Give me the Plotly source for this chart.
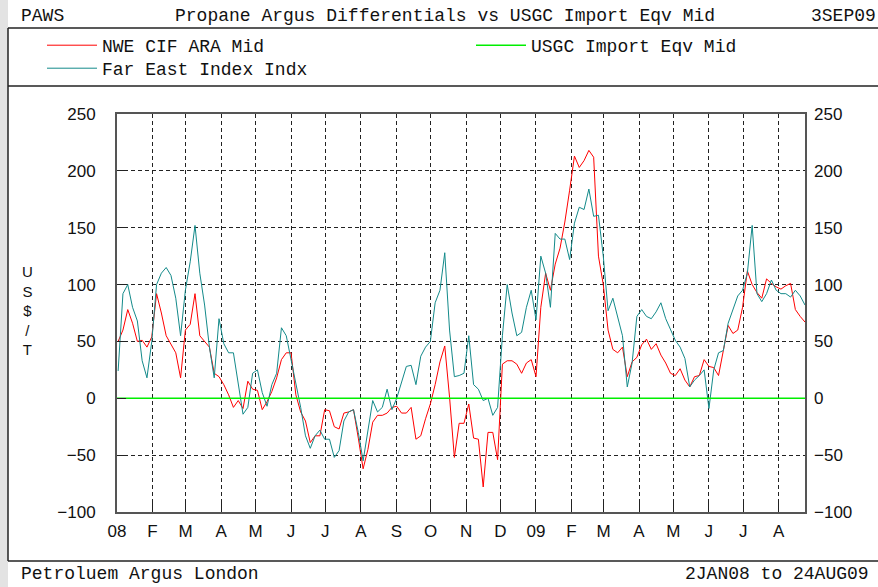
import plotly.graph_objects as go
import pandas as pd

# ---------------- data ----------------
sample_dates = pd.date_range("2008-01-02", "2009-08-24", periods=144)

nwe_cif_ara_mid = [
    50, 60, 78, 66, 50, 51, 45, 54, 92, 75,
    55, 48, 40, 18, 60, 65, 92, 55, 50, 45,
    22, 19, 12, 3, -8, -2, -9, 15, 8, 7,
    -10, -3, 6, 18, 34, 40, 40, 3, -12, -20,
    -39, -33, -33, -10, -11, -25, -27, -13, -12, -10,
    -35, -62, -45, -21, -15, -15, -13, -8, -7, -13,
    -13, -8, -36, -33, -18, -5, 12, 32, 46, 1,
    -52, -22, -22, -5, -35, -36, -78, -30, -30, -54,
    30, 33, 33, 30, 22, 31, 34, 19, 80, 110,
    95, 118, 132, 155, 183, 213, 203, 209, 218, 212,
    125, 100, 60, 43, 40, 45, 19, 32, 36, 47,
    52, 43, 48, 38, 31, 22, 20, 26, 16, 10,
    19, 20, 34, 28, 27, 20, 42, 64, 57, 60,
    80, 112, 100, 93, 88, 105, 101, 98, 96, 99,
    101, 78, 72, 67,
]

far_east_index_indx = [
    24, 92, 100, 80, 68, 33, 18, 50, 100, 110,
    115, 108, 88, 55, 95, 120, 152, 110, 82, 45,
    18, 70, 48, 40, 40, 15, -14, -8, 22, 25,
    5, -7, 12, 22, 62, 55, 35, 12, -8, -33,
    -44, -33, -28, -36, -36, -52, -46, -20, -12, -10,
    -30, -55, -30, -2, -12, -8, 8, -10, 0, 13,
    28, 29, 12, 37, 45, 50, 84, 95, 128, 60,
    19, 20, 22, 55, 12, 8, -2, 0, -15, -8,
    55, 100, 75, 55, 58, 80, 95, 69, 125, 110,
    80, 145, 140, 140, 122, 154, 168, 166, 184, 160,
    161, 125, 77, 88, 72, 55, 10, 31, 72, 78,
    72, 70, 76, 84, 70, 60, 51, 45, 35, 10,
    16, 20, 25, -9, 25, 40, 42, 66, 78, 90,
    95, 110, 152, 92, 85, 92, 104, 95, 92, 92,
    89, 95, 90, 82,
]

usgc_dates = ["2008-01-01", "2009-08-24"]
usgc_import_eqv_mid = [0, 0]

month_starts = pd.date_range("2008-01-01", "2009-08-01", freq="MS")
month_labels = ["08", "F", "M", "A", "M", "J", "J", "A", "S", "O", "N", "D",
                "09", "F", "M", "A", "M", "J", "J", "A"]
y_ticks = [-100, -50, 0, 50, 100, 150, 200, 250]

# ---------------- layout helpers ----------------
W, H = 878, 587
L, R, T, B = 117, 73, 114, 75
PW, PH = W - L - R, H - T - B


def px(x):
    return (x - L) / PW


def py(y):
    return (H - B - y) / PH


MONO = "Liberation Mono, DejaVu Sans Mono, monospace"
SANS = "Liberation Sans, Arial, sans-serif"

fig = go.Figure()
fig.add_trace(go.Scatter(
    x=sample_dates, y=nwe_cif_ara_mid, mode="lines", name="NWE CIF ARA Mid",
    line=dict(color="#ff0000", width=1), legend="legend"))
fig.add_trace(go.Scatter(
    x=sample_dates, y=far_east_index_indx, mode="lines", name="Far East Index Indx",
    line=dict(color="#138a8a", width=1), legend="legend3"))
fig.add_trace(go.Scatter(
    x=usgc_dates, y=usgc_import_eqv_mid, mode="lines", name="USGC Import Eqv Mid",
    line=dict(color="#00ee00", width=1.5), legend="legend2", yaxis="y2"))

axis_common = dict(
    showline=True, linecolor="#555555", linewidth=2, mirror=True,
    ticks="inside", ticklen=9, tickcolor="#222222", tickwidth=1,
    showgrid=True, gridcolor="#222222", gridwidth=1, griddash="4px,3px",
    zeroline=False, automargin=False,
    tickfont=dict(family=SANS, size=17, color="#111111"),
)

legend_common = dict(
    orientation="v", xref="container", yref="container",
    xanchor="left", yanchor="top", itemwidth=50, tracegroupgap=0,
    font=dict(family=MONO, size=18, color="#111111"),
    bgcolor="rgba(0,0,0,0)", borderwidth=0,
)

fig.update_layout(
    width=W, height=H,
    margin=dict(l=L, r=R, t=T, b=B, pad=0, autoexpand=False),
    paper_bgcolor="white", plot_bgcolor="white",
    showlegend=True,
    legend=dict(legend_common, x=42 / W, y=1 - 27 / H),
    legend3=dict(legend_common, x=42 / W, y=1 - 50 / H),
    legend2=dict(legend_common, x=471 / W, y=1 - 27 / H),
    xaxis=dict(
        axis_common, type="date", range=["2008-01-01", "2009-08-24"],
        tickmode="array", tickvals=month_starts, ticktext=month_labels,
        ticklabelstandoff=3,
    ),
    yaxis=dict(
        axis_common, range=[-100, 250], tickmode="array", tickvals=y_ticks,
        ticklabelstandoff=16,
    ),
    yaxis2=dict(
        overlaying="y", side="right", range=[-100, 250], tickmode="array",
        tickvals=y_ticks, showgrid=False, showline=False, zeroline=False,
        ticks="", ticklabelstandoff=8, automargin=False,
        tickfont=dict(family=SANS, size=17, color="#111111"),
    ),
)

# frame: grey strip on the left and black rule lines
shapes = [
    dict(type="rect", xref="paper", yref="paper", x0=px(0), x1=px(8), y0=py(H), y1=py(0),
         fillcolor="#e3e3e3", line=dict(width=0), layer="below"),
    dict(type="line", xref="paper", yref="paper", x0=px(8), x1=px(W), y0=py(28), y1=py(28),
         line=dict(color="#222222", width=1.5)),
    dict(type="line", xref="paper", yref="paper", x0=px(8), x1=px(W), y0=py(86), y1=py(86),
         line=dict(color="#222222", width=1.5)),
    dict(type="line", xref="paper", yref="paper", x0=px(8), x1=px(W), y0=py(561), y1=py(561),
         line=dict(color="#222222", width=1.5)),
    dict(type="line", xref="paper", yref="paper", x0=px(8), x1=px(8), y0=py(28), y1=py(561),
         line=dict(color="#222222", width=1.5)),
]
fig.update_layout(shapes=shapes)

ann = []


def text(t, x, y, anchor, font, size=18):
    ann.append(dict(text=t, xref="paper", yref="paper", x=px(x), y=py(y),
                    xanchor=anchor, yanchor="middle", showarrow=False,
                    font=dict(family=font, size=size, color="#111111")))


text("PAWS", 19, 16, "left", MONO)
text("Propane Argus Differentials vs USGC Import Eqv Mid", 445, 16, "center", MONO)
text("3SEP09", 878, 16, "right", MONO)
text("Petroluem Argus London", 19, 574, "left", MONO)
text("2JAN08 to 24AUG09", 871, 574, "right", MONO)
text("U<br>S<br>$<br>/<br>T", 27, 310, "center", SANS, 15)
fig.update_layout(annotations=ann)

fig.write_html(
    "out.html",
    config={"displayModeBar": False},
    post_script="document.body.style.margin='0';document.body.style.padding='0';",
)
